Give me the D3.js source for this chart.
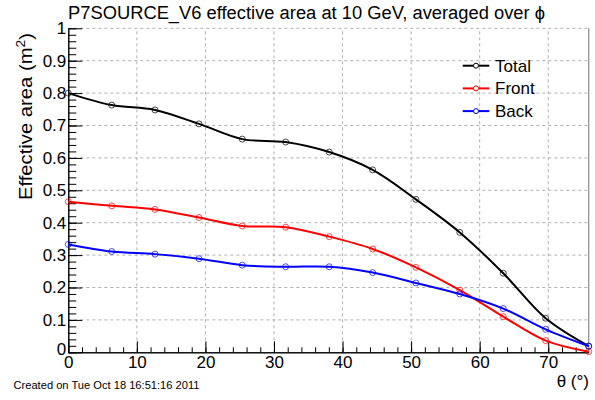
<!DOCTYPE html>
<html><head><meta charset="utf-8">
<script src="https://cdn.jsdelivr.net/npm/d3@7"></script>
<style>body{margin:0;background:#fff}svg{display:block}text{font-family:"Liberation Sans",Arial,sans-serif}</style>
</head><body>
<svg id="c" width="595" height="400"></svg>
<script>
const theta = [0, 6.33, 12.64, 19.06, 25.37, 31.7, 38.06, 44.39, 50.7, 57.1, 63.44, 69.62, 75.9];
const total = [0.800, 0.763, 0.748, 0.705, 0.658, 0.649, 0.618, 0.563, 0.472, 0.370, 0.244, 0.105, 0.019];
const front = [0.465, 0.452, 0.441, 0.416, 0.390, 0.386, 0.357, 0.319, 0.262, 0.192, 0.110, 0.036, 0.002];
const back  = [0.333, 0.311, 0.303, 0.289, 0.269, 0.264, 0.264, 0.246, 0.214, 0.180, 0.135, 0.071, 0.019];
const seriesNames = ["Total", "Front", "Back"];
const seriesColors = ["#000000", "#ff0000", "#0000ff"];
const xMajor = [0, 10, 20, 30, 40, 50, 60, 70];
const yMajor = [0, 0.1, 0.2, 0.3, 0.4, 0.5, 0.6, 0.7, 0.8, 0.9, 1];
const title = "P7SOURCE_V6 effective area at 10 GeV, averaged over \u03d5";

const svg = d3.select("#c");
const L = 68.3, R = 588.7, T = 28.3, B = 352.3;
const x = d3.scaleLinear().domain([0, 75.9]).range([L, R]);
const y = d3.scaleLinear().domain([0, 1]).range([B, T]);

// grid
const grid = svg.append("g").attr("stroke", "#b0b0b0").attr("stroke-dasharray", "3,3").attr("stroke-width", 1);
xMajor.filter(d => d > 0).forEach(d => grid.append("line").attr("x1", x(d)).attr("x2", x(d)).attr("y1", B).attr("y2", T));
yMajor.filter(d => d > 0).forEach(d => grid.append("line").attr("x1", L).attr("x2", R).attr("y1", y(d)).attr("y2", y(d)));
// right frame
svg.append("line").attr("x1", R).attr("x2", R).attr("y1", T).attr("y2", B).attr("stroke", "#8a8a8a").attr("stroke-width", 1.2);

// axes
const xMinor = d3.range(0, 76, 2);
const yMinor = d3.range(0, 1.001, 0.02);
const gxm = svg.append("g").attr("transform", `translate(0,${B})`)
  .call(d3.axisBottom(x).tickValues(xMinor).tickSizeInner(-5).tickSizeOuter(0).tickFormat(""));
const gx = svg.append("g").attr("transform", `translate(0,${B})`)
  .call(d3.axisBottom(x).tickValues(xMajor).tickSizeInner(-11).tickSizeOuter(0).tickPadding(4).tickFormat(d3.format("d")));
const gym = svg.append("g").attr("transform", `translate(${L},0)`)
  .call(d3.axisLeft(y).tickValues(yMinor).tickSizeInner(-8).tickSizeOuter(0).tickFormat(""));
const gy = svg.append("g").attr("transform", `translate(${L},0)`)
  .call(d3.axisLeft(y).tickValues(yMajor).tickSizeInner(-14).tickSizeOuter(0).tickPadding(2).tickFormat(d => d === 0 ? "0" : d === 1 ? "1" : d3.format(".1f")(d)));
[gx, gxm, gy, gym].forEach(g => {
  g.selectAll("path,line").attr("stroke", "#000").attr("stroke-width", 1);
  g.selectAll("text").attr("font-size", 17).attr("fill", "#000").attr("font-family", "Liberation Sans, Arial, sans-serif");
});
gy.selectAll("text").filter(d => d === 0).attr("dy", "0.1em");

// series
const series = [total, front, back];
const line = d3.line().x((d, i) => x(theta[i])).y(d => y(d)).curve(d3.curveCatmullRom.alpha(0.5));
series.forEach((s, k) => {
  svg.append("path").datum(s).attr("d", line).attr("fill", "none").attr("stroke", seriesColors[k]).attr("stroke-width", 2);
  svg.append("g").selectAll("circle").data(s).join("circle")
    .attr("cx", (d, i) => x(theta[i])).attr("cy", d => y(d)).attr("r", 3)
    .attr("fill", "none").attr("stroke", seriesColors[k]).attr("stroke-opacity", 0.7).attr("stroke-width", 1);
});

// legend
const lg = svg.append("g");
seriesNames.forEach((n, k) => {
  const yy = 65.7 + k * 22.7;
  lg.append("line").attr("x1", 462.7).attr("x2", 489.3).attr("y1", yy).attr("y2", yy).attr("stroke", seriesColors[k]).attr("stroke-width", 2);
  lg.append("circle").attr("cx", 476).attr("cy", yy).attr("r", 2.5).attr("fill", "#fff").attr("stroke", seriesColors[k]).attr("stroke-width", 1);
  lg.append("text").attr("x", 495).attr("y", yy + 6).attr("font-size", 17).text(n);
});

// titles
svg.append("text").attr("x", 68).attr("y", 19).attr("font-size", 18).attr("fill", "#000")
  .attr("textLength", 477).attr("lengthAdjust", "spacingAndGlyphs").text(title);
svg.append("text").attr("transform", "translate(32,116.5) rotate(-90)").attr("text-anchor", "middle").attr("font-size", 19)
  .attr("textLength", 167).attr("lengthAdjust", "spacingAndGlyphs")
  .html('Effective area (m<tspan dy="-7" font-size="13">2</tspan><tspan dy="7">)</tspan>');
svg.append("text").attr("x", 589).attr("y", 387).attr("text-anchor", "end").attr("font-size", 17).text("\u03b8 (\u00b0)");
svg.append("text").attr("x", 13.5).attr("y", 389).attr("font-size", 11).attr("fill", "#000")
  .attr("textLength", 186).attr("lengthAdjust", "spacingAndGlyphs").text("Created on Tue Oct 18 16:51:16 2011");
</script>
</body></html>
